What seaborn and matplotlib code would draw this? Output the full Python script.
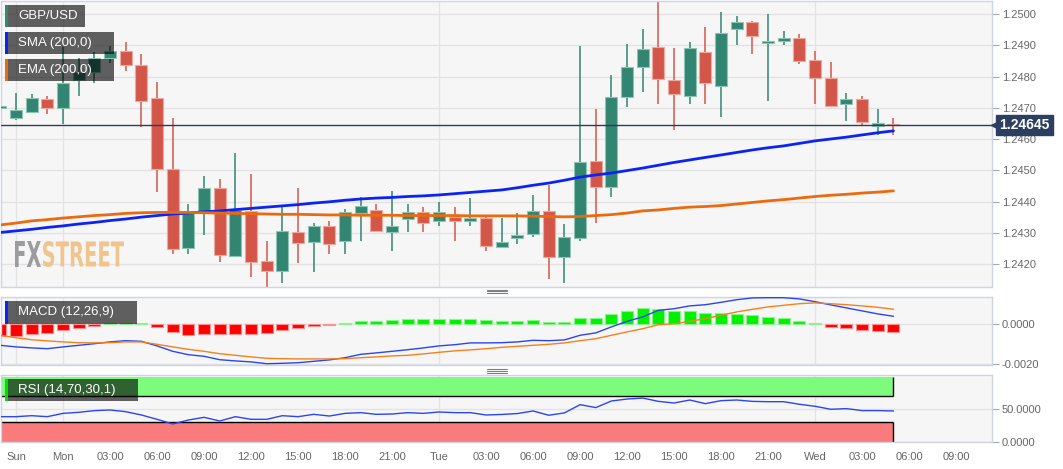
import numpy as np
import pandas as pd
import matplotlib
matplotlib.use('Agg')
import matplotlib.pyplot as plt
import matplotlib.transforms as mtransforms
from matplotlib.patches import Rectangle, PathPatch
from matplotlib.lines import Line2D
from matplotlib.textpath import TextPath
from matplotlib.font_manager import FontProperties
import seaborn as sns

# hourly GBP/USD candles, hour 0 = Monday 00:00
hours = list(range(-4, 54))
opens = [1.24700, 1.24666, 1.24687, 1.24729, 1.24700, 1.24789, 1.24815, 1.24858, 1.24883, 1.24837,
         1.24730, 1.24503, 1.24250, 1.24362, 1.24442, 1.24226, 1.24370, 1.24210, 1.24179, 1.24301,
         1.24271, 1.24323, 1.24273, 1.24362, 1.24373, 1.24301, 1.24345, 1.24366, 1.24339, 1.24351,
         1.24337, 1.24347, 1.24255, 1.24284, 1.24295, 1.24370, 1.24223, 1.24282, 1.24530, 1.24445,
         1.24735, 1.24829, 1.24895, 1.24789, 1.24738, 1.24877, 1.24771, 1.24952, 1.24973, 1.24906,
         1.24913, 1.24924, 1.24853, 1.24796, 1.24711, 1.24727, 1.24642, 1.24649]
highs = [1.24799, 1.24747, 1.24743, 1.24739, 1.24895, 1.24859, 1.24879, 1.24899, 1.24909, 1.24872,
         1.24781, 1.24666, 1.24392, 1.24482, 1.24471, 1.24554, 1.24488, 1.24275, 1.24387, 1.24442,
         1.24330, 1.24338, 1.24375, 1.24413, 1.24392, 1.24435, 1.24392, 1.24381, 1.24397, 1.24381,
         1.24410, 1.24354, 1.24346, 1.24362, 1.24421, 1.24453, 1.24328, 1.24898, 1.24696, 1.24805,
         1.24904, 1.24951, 1.25038, 1.24890, 1.24909, 1.24957, 1.25007, 1.24994, 1.24979, 1.24999,
         1.24947, 1.24936, 1.24883, 1.24845, 1.24748, 1.24739, 1.24695, 1.24666]
lows = [1.24661, 1.24661, 1.24682, 1.24679, 1.24648, 1.24739, 1.24780, 1.24842, 1.24819, 1.24639,
        1.24431, 1.24232, 1.24232, 1.24293, 1.24207, 1.24221, 1.24159, 1.24127, 1.24140, 1.24202,
        1.24175, 1.24231, 1.24231, 1.24273, 1.24305, 1.24242, 1.24301, 1.24301, 1.24320, 1.24273,
        1.24320, 1.24242, 1.24250, 1.24263, 1.24287, 1.24151, 1.24140, 1.24275, 1.24332, 1.24415,
        1.24701, 1.24750, 1.24711, 1.24629, 1.24712, 1.24711, 1.24669, 1.24901, 1.24872, 1.24722,
        1.24901, 1.24840, 1.24711, 1.24701, 1.24658, 1.24642, 1.24613, 1.24613]
closes = [1.24705, 1.24693, 1.24730, 1.24700, 1.24780, 1.24815, 1.24858, 1.24882, 1.24837, 1.24723,
          1.24503, 1.24247, 1.24362, 1.24442, 1.24229, 1.24373, 1.24207, 1.24179, 1.24306, 1.24268,
          1.24323, 1.24263, 1.24366, 1.24386, 1.24307, 1.24322, 1.24366, 1.24332, 1.24366, 1.24339,
          1.24347, 1.24258, 1.24271, 1.24292, 1.24369, 1.24221, 1.24287, 1.24526, 1.24445, 1.24733,
          1.24830, 1.24888, 1.24791, 1.24743, 1.24890, 1.24780, 1.24938, 1.24973, 1.24930, 1.24915,
          1.24924, 1.24850, 1.24794, 1.24706, 1.24727, 1.24653, 1.24652, 1.24645]
sma200 = [1.24301, 1.24306, 1.24311, 1.24317, 1.24322, 1.24328, 1.24333, 1.24339, 1.24344, 1.24350,
          1.24355, 1.24360, 1.24363, 1.24367, 1.24370, 1.24374, 1.24378, 1.24382, 1.24386, 1.24390,
          1.24395, 1.24399, 1.24404, 1.24408, 1.24411, 1.24413, 1.24416, 1.24418, 1.24421, 1.24425,
          1.24429, 1.24433, 1.24437, 1.24444, 1.24452, 1.24459, 1.24468, 1.24478, 1.24485, 1.24491,
          1.24499, 1.24507, 1.24516, 1.24525, 1.24533, 1.24541, 1.24549, 1.24557, 1.24565, 1.24572,
          1.24578, 1.24586, 1.24594, 1.24600, 1.24606, 1.24613, 1.24620, 1.24626]
ema200 = [1.24325, 1.24331, 1.24338, 1.24342, 1.24347, 1.24351, 1.24355, 1.24358, 1.24362, 1.24364,
          1.24365, 1.24365, 1.24365, 1.24364, 1.24363, 1.24362, 1.24361, 1.24360, 1.24359, 1.24359,
          1.24358, 1.24357, 1.24357, 1.24356, 1.24356, 1.24356, 1.24355, 1.24355, 1.24355, 1.24355,
          1.24354, 1.24354, 1.24354, 1.24354, 1.24353, 1.24352, 1.24351, 1.24352, 1.24355, 1.24358,
          1.24363, 1.24370, 1.24373, 1.24378, 1.24382, 1.24384, 1.24387, 1.24392, 1.24397, 1.24402,
          1.24406, 1.24411, 1.24416, 1.24420, 1.24423, 1.24427, 1.24430, 1.24434]
macd_line = [-0.00105, -0.00113, -0.00118, -0.00122, -0.00113, -0.00105, -0.00097, -0.00088, -0.00082, -0.00085,
             -0.00108, -0.00135, -0.00152, -0.00160, -0.00177, -0.00183, -0.00188, -0.00197, -0.00195, -0.00192,
             -0.00185, -0.00178, -0.00167, -0.00150, -0.00143, -0.00135, -0.00127, -0.00118, -0.00108, -0.00102,
             -0.00093, -0.00093, -0.00092, -0.00088, -0.00080, -0.00082, -0.00078, -0.00055, -0.00043, -0.00013,
             0.00015, 0.00037, 0.00070, 0.00078, 0.00092, 0.00098, 0.00110, 0.00123, 0.00132, 0.00133,
             0.00133, 0.00127, 0.00113, 0.00097, 0.00082, 0.00067, 0.00052, 0.00040]
macd_signal = [-0.00055, -0.00067, -0.00077, -0.00083, -0.00088, -0.00092, -0.00093, -0.00092, -0.00088, -0.00088,
               -0.00100, -0.00113, -0.00125, -0.00135, -0.00147, -0.00155, -0.00163, -0.00170, -0.00172, -0.00173,
               -0.00173, -0.00173, -0.00172, -0.00167, -0.00163, -0.00158, -0.00155, -0.00148, -0.00140, -0.00133,
               -0.00128, -0.00122, -0.00115, -0.00110, -0.00105, -0.00100, -0.00093, -0.00082, -0.00072, -0.00055,
               -0.00038, -0.00022, -0.00002, 0.00003, 0.00015, 0.00028, 0.00045, 0.00062, 0.00075, 0.00087,
               0.00095, 0.00103, 0.00107, 0.00103, 0.00098, 0.00092, 0.00085, 0.00075]
macd_hist = [-0.00060, -0.00058, -0.00050, -0.00042, -0.00030, -0.00018, -0.00008, 0.00005, 0.00007, 0.00005,
             -0.00013, -0.00038, -0.00052, -0.00047, -0.00050, -0.00047, -0.00047, -0.00042, -0.00030, -0.00018,
             -0.00010, -0.00005, 0.00005, 0.00015, 0.00017, 0.00020, 0.00025, 0.00025, 0.00028, 0.00028,
             0.00028, 0.00020, 0.00017, 0.00017, 0.00022, 0.00013, 0.00013, 0.00032, 0.00033, 0.00052,
             0.00068, 0.00082, 0.00077, 0.00067, 0.00067, 0.00055, 0.00057, 0.00053, 0.00047, 0.00038,
             0.00030, 0.00017, 0.00007, -0.00012, -0.00018, -0.00030, -0.00035, -0.00038]
rsi_values = [38.6, 38.6, 40.1, 38.6, 43.7, 45.3, 47.9, 48.9, 46.3, 41.2,
              34.5, 27.3, 33.4, 37.6, 31.9, 38.6, 34.5, 34.5, 40.1, 38.6,
              42.2, 39.6, 43.7, 44.8, 42.2, 42.7, 44.8, 43.7, 45.8, 44.8,
              44.8, 41.2, 42.0, 43.4, 47.4, 40.8, 44.4, 57.1, 52.6, 62.8,
              65.8, 67.3, 62.2, 59.7, 64.3, 58.7, 63.3, 64.3, 62.2, 61.7,
              61.7, 57.7, 54.6, 50.0, 51.0, 48.0, 48.0, 47.4]
rsi_upper, rsi_lower = 70, 30
last_price = 1.24645

tick_hours = [-3, 0, 3, 6, 9, 12, 15, 18, 21, 24, 27, 30, 33, 36, 39, 42, 45, 48, 51, 54, 57]
tick_labels = ['Sun', 'Mon', '03:00', '06:00', '09:00', '12:00', '15:00', '18:00', '21:00',
               'Tue', '03:00', '06:00', '09:00', '12:00', '15:00', '18:00', '21:00',
               'Wed', '03:00', '06:00', '09:00']
price_ticks = [1.2420, 1.2430, 1.2440, 1.2450, 1.2460, 1.2470, 1.2480, 1.2490, 1.2500]

df = pd.DataFrame({'hour': hours, 'open': opens, 'high': highs, 'low': lows, 'close': closes,
                   'sma': sma200, 'ema': ema200, 'macd': macd_line, 'signal': macd_signal,
                   'hist': macd_hist, 'rsi': rsi_values})

sns.set_style('white')
plt.rcParams['font.family'] = ['Liberation Sans', 'DejaVu Sans']

W, H = 1063, 469
fig = plt.figure(figsize=(W / 100, H / 100), dpi=100)
fig.patch.set_facecolor('white')


def px_axes(top, bottom):
    return fig.add_axes([1 / W, 1 - bottom / H, 991 / W, (bottom - top) / H])


ax = px_axes(1, 287)
ax_macd = px_axes(297, 365)
ax_rsi = px_axes(375, 442)

GREEN, RED = '#328571', '#D35749'
GRID = '#E3E3E3'
day_hours = [h for h, lab in zip(tick_hours, tick_labels) if ':' not in lab]

for a in (ax, ax_macd, ax_rsi):
    a.set_facecolor('#F6F6F6')
    a.set_axisbelow(True)
    for s in a.spines.values():
        s.set_color('#CDD4E4')
        s.set_linewidth(1)
    a.set_xlim(-3.96, 59.29)
    a.set_xticks(tick_hours)
    a.tick_params(axis='x', length=0, labelbottom=False)
    a.yaxis.tick_right()
    a.tick_params(axis='y', length=5, color='#A8A8A8', labelsize=8, labelcolor='#666666', pad=2)
    a.grid(axis='y', color=GRID, lw=1)
    for d in day_hours:
        a.axvline(d, color=GRID, lw=1, zorder=0.5)

# candles
up = df['close'] >= df['open']
cols = np.where(up, GREEN, RED)
edges = np.where(up, '#8FC3B4', '#EDA9A0')
ax.vlines(df['hour'], df['low'], df['high'], colors=cols, lw=1.1, zorder=2)
body_low = df[['open', 'close']].min(axis=1)
body_h = (df['close'] - df['open']).abs().clip(lower=0.00003)
ax.bar(df['hour'], body_h, bottom=body_low, width=0.76, color=cols, edgecolor=edges,
       linewidth=0.8, zorder=3)

sns.lineplot(data=df, x='hour', y='sma', ax=ax, color='#0A24F5', lw=2, zorder=4)
sns.lineplot(data=df, x='hour', y='ema', ax=ax, color='#EC6A0E', lw=2, zorder=4)
ax.axhline(last_price, color='#2E3D55', lw=1, zorder=5)
ax.set_ylim(1.241264, 1.250416)
ax.set_yticks(price_ticks)
ax.set_yticklabels([f'{p:.4f}' for p in price_ticks])

# last price badge
badge = '#2C3F60'
ytr = ax.get_yaxis_transform()
ax.text(1, last_price, f'{last_price:.5f}', color='white', fontsize=10, fontweight='bold',
        ha='left', va='center', zorder=10, clip_on=False,
        transform=mtransforms.offset_copy(ytr, fig=fig, x=7.5, y=0, units='dots'),
        bbox=dict(boxstyle='square,pad=0.22', fc=badge, ec=badge))
ax.plot([1], [last_price], marker='<', ms=6, color=badge, clip_on=False, zorder=10,
        transform=mtransforms.offset_copy(ytr, fig=fig, x=3, y=0, units='dots'))

# MACD
hist_cols = np.where(df['hist'] >= 0, '#00F000', '#FF0000')
hist_edges = np.where(df['hist'] >= 0, '#8AF58A', '#FF9090')
ax_macd.bar(df['hour'], df['hist'], width=0.76, color=hist_cols, edgecolor=hist_edges,
            linewidth=0.8, zorder=2)
sns.lineplot(data=df, x='hour', y='macd', ax=ax_macd, color='#2A45F2', lw=1, zorder=3)
sns.lineplot(data=df, x='hour', y='signal', ax=ax_macd, color='#F5801E', lw=1, zorder=3)
ax_macd.set_ylim(-0.002035, 0.001365)
ax_macd.set_yticks([-0.002, 0])
ax_macd.set_yticklabels(['-0.0020', '0.0000'])

# RSI
band_x = [hours[0] - 1, hours[-1]]
ax_rsi.fill_between(band_x, rsi_upper, 100, color='#7CFB7C', lw=0, zorder=1)
ax_rsi.fill_between(band_x, 0, rsi_lower, color='#F97B7B', lw=0, zorder=1)
ax_rsi.hlines([rsi_upper, rsi_lower], band_x[0], band_x[1], color='black', lw=1, zorder=2)
ax_rsi.vlines([hours[-1], hours[-1]], [rsi_upper, 0], [100, rsi_lower], color='black', lw=1, zorder=2)
sns.lineplot(data=df, x='hour', y='rsi', ax=ax_rsi, color='#2A45F2', lw=1, zorder=3)
ax_rsi.set_ylim(-0.5, 102.9)
ax_rsi.set_yticks([0, 50])
ax_rsi.set_yticklabels(['0.0000', '50.0000'])
ax_rsi.set_xticklabels(tick_labels)
ax_rsi.tick_params(axis='x', length=3, color='#B0B0B0', labelbottom=True, labelsize=8,
                   labelcolor='#666666', pad=4)

for a in (ax, ax_macd, ax_rsi):
    a.set_xlabel('')
    a.set_ylabel('')


# label boxes (pixel positions, top-left origin)
def label_box(x0, y0, x1, y1, strip, text):
    fig.add_artist(Rectangle((x0 / W, 1 - y1 / H), (x1 - x0) / W, (y1 - y0) / H,
                             transform=fig.transFigure, fc='black', alpha=0.61, lw=0, zorder=20))
    fig.add_artist(Rectangle((x0 / W, 1 - y1 / H), 2.5 / W, (y1 - y0) / H,
                             transform=fig.transFigure, fc=strip, lw=0, zorder=21))
    fig.text((x0 + 13) / W, 1 - (y0 + y1) / 2 / H, text, color='white', fontsize=9.5,
             ha='left', va='center', zorder=22)


label_box(5, 5, 85, 27, '#2E8B70', 'GBP/USD')
label_box(5, 32, 114, 54, '#0A24F5', 'SMA (200,0)')
label_box(5, 59, 114, 81, '#EC6A0E', 'EMA (200,0)')
label_box(5, 301, 137, 324, '#0A24F5', 'MACD (12,26,9)')
label_box(5, 379, 138, 401, '#00E000', 'RSI (14,70,30,1)')

# panel grips
for yg in (289.5, 291.5, 293.5, 368.5, 370.5, 372.5):
    fig.add_artist(Line2D([487 / W, 507 / W], [1 - yg / H, 1 - yg / H],
                          transform=fig.transFigure, color='#808080', lw=0.8))


# FXSTREET watermark
def stretched_word(word, x0, x1, y0, y1, color):
    tp = TextPath((0, 0), word, size=50, prop=FontProperties(family='DejaVu Sans', weight='bold'))
    ext = tp.get_extents()
    tr = (mtransforms.Affine2D().translate(-ext.x0, -ext.y0)
          .scale((x1 - x0) / ext.width, (y1 - y0) / ext.height)
          .translate(x0, H - y1))
    fig.add_artist(PathPatch(tr.transform_path(tp), fc=color, ec='none',
                             transform=mtransforms.IdentityTransform(), zorder=0.8))


stretched_word('FX', 15, 41, 241, 267, '#9C9C9F')
stretched_word('STREET', 43, 124, 241, 267, '#F1C48E')

fig.savefig('out.png', dpi=100)
